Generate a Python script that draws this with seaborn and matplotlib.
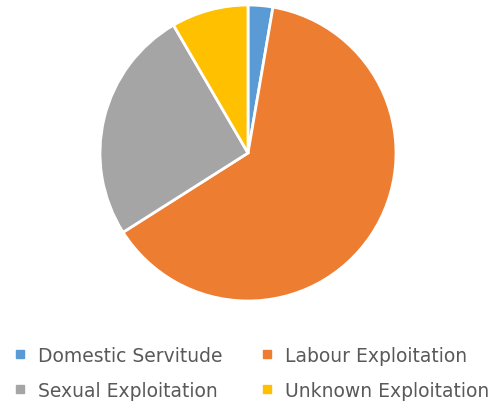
import matplotlib
matplotlib.use("Agg")
import matplotlib.pyplot as plt
import seaborn as sns
from matplotlib.lines import Line2D

categories = ["Domestic Servitude", "Labour Exploitation", "Sexual Exploitation", "Unknown Exploitation"]
values = [2.7, 63.3, 25.6, 8.4]
colors = ["#5B9BD5", "#ED7D31", "#A5A5A5", "#FFC000"]

sns.set_theme(style="white")
plt.rcParams['font.family'] = ['Liberation Sans Narrow', 'DejaVu Sans']

fig = plt.figure(figsize=(4.98, 4.14), dpi=100)
W, H = 498, 414
cx, cy, r = 248, 154, 148
ax = fig.add_axes([(cx - r) / W, (H - cy - r) / H, 2 * r / W, 2 * r / H])
ax.pie(values, colors=colors, startangle=90, counterclock=False,
       wedgeprops=dict(edgecolor="white", linewidth=2))
ax.set_xlim(-1, 1)
ax.set_ylim(-1, 1)
ax.set_aspect("equal")
ax.axis("off")

handles = [Line2D([0], [0], marker="s", linestyle="", markersize=6,
                  markerfacecolor=c, markeredgecolor=c) for c in colors]
legend_kw = dict(loc="center left", frameon=False, fontsize=13.5,
                 labelcolor="#595959", handlelength=0.6, handletextpad=0.7,
                 labelspacing=0.85, borderpad=0, borderaxespad=0)
leg1 = fig.legend([handles[0], handles[2]], [categories[0], categories[2]],
                  bbox_to_anchor=(14 / W, 1 - 374 / H), **legend_kw)
leg2 = fig.legend([handles[1], handles[3]], [categories[1], categories[3]],
                  bbox_to_anchor=(261 / W, 1 - 374 / H), **legend_kw)

fig.savefig("out.png", dpi=100, facecolor="white")
